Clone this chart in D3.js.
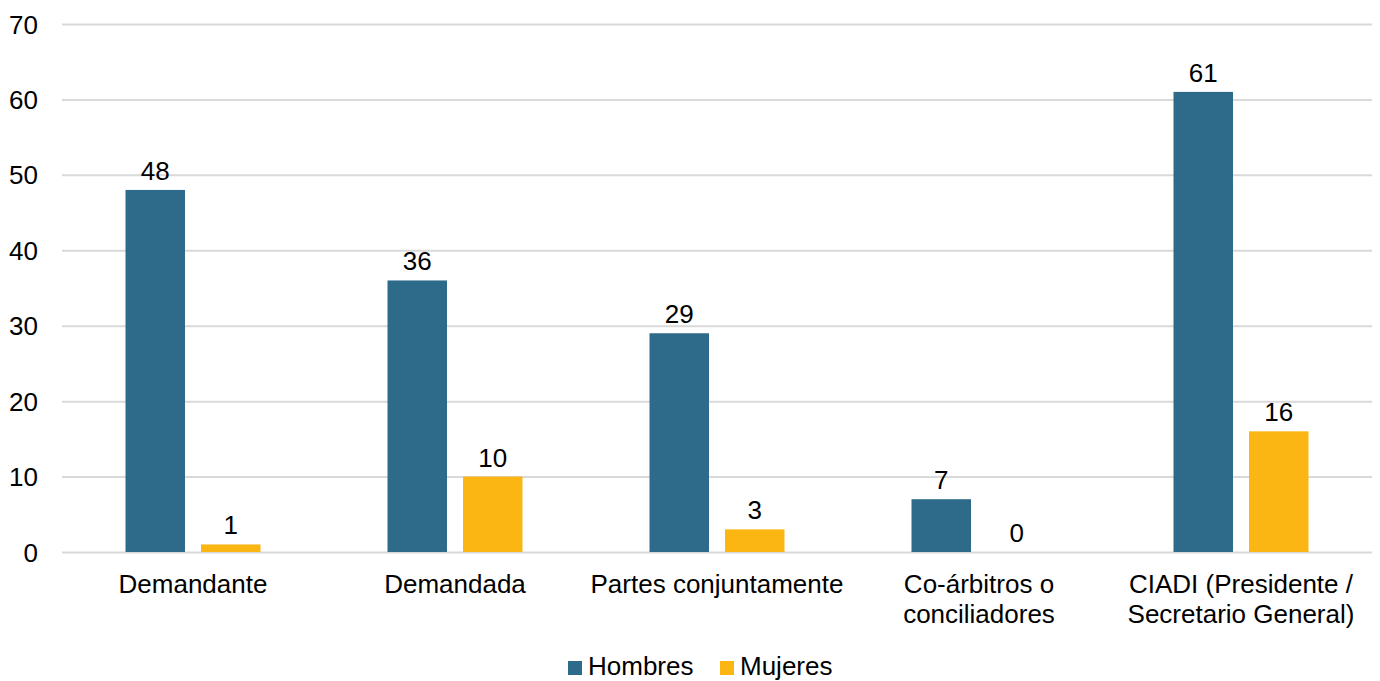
<!DOCTYPE html>
<html>
<head>
<meta charset="utf-8">
<script src="https://cdn.jsdelivr.net/npm/d3@7"></script>
<style>
  html, body { margin: 0; padding: 0; background: #fff; }
  svg { display: block; font-family: "Liberation Sans", Arial, sans-serif; }
</style>
</head>
<body>
<svg id="chart" width="1380" height="681"></svg>
<script>
// Appointments by nominating party, split by gender
const categories = [
  ["Demandante"],
  ["Demandada"],
  ["Partes conjuntamente"],
  ["Co-árbitros o", "conciliadores"],
  ["CIADI (Presidente /", "Secretario General)"]
];
const seriesNames = ["Hombres", "Mujeres"];
const hombres = [48, 36, 29, 7, 61];
const mujeres = [1, 10, 3, 0, 16];
const yTicks = [0, 10, 20, 30, 40, 50, 60, 70];

const colors = { Hombres: "#2e6b8a", Mujeres: "#fbb614" };

const svg = d3.select("#chart");
const plotLeft = 62, plotRight = 1372, plotTop = 24, plotBottom = 552;
const fontSize = 26;

const catKeys = categories.map(c => c.join(" "));
const x0 = d3.scaleBand().domain(catKeys).range([plotLeft, plotRight]).padding(0);
const x1 = d3.scaleBand().domain(seriesNames).range([0, x0.bandwidth()])
  .paddingInner(0.212).paddingOuter(0.841);
const y = d3.scaleLinear().domain([0, 70]).range([plotBottom, plotTop]);

// gridlines and value axis
const yAxis = d3.axisLeft(y).tickValues(yTicks).tickSize(-(plotRight - plotLeft)).tickPadding(24);
const gy = svg.append("g").attr("transform", `translate(${plotLeft},0)`).call(yAxis);
gy.select(".domain").remove();
gy.selectAll(".tick line").attr("stroke", "#d9d9d9").attr("stroke-width", 2);
gy.selectAll(".tick text").attr("font-size", fontSize).attr("fill", "#000")
  .attr("font-family", "Liberation Sans, Arial, sans-serif").attr("dy", "0.35em");

// bars
const rows = catKeys.map((k, i) => ({ key: k, values: [
  { s: "Hombres", v: hombres[i] },
  { s: "Mujeres", v: mujeres[i] }
]}));

const groups = svg.append("g").selectAll("g").data(rows).join("g")
  .attr("transform", d => `translate(${x0(d.key)},0)`);

groups.selectAll("rect").data(d => d.values).join("rect")
  .attr("x", d => x1(d.s))
  .attr("width", x1.bandwidth())
  .attr("y", d => y(d.v))
  .attr("height", d => y(0) - y(d.v))
  .attr("fill", d => colors[d.s]);

groups.selectAll("text").data(d => d.values).join("text")
  .attr("x", d => x1(d.s) + x1.bandwidth() / 2)
  .attr("y", d => y(d.v) - 10)
  .attr("text-anchor", "middle")
  .attr("font-size", fontSize)
  .attr("fill", "#000")
  .text(d => d.v);

// category labels
const xLabels = svg.append("g").selectAll("text").data(categories).join("text")
  .attr("x", (d, i) => x0(catKeys[i]) + x0.bandwidth() / 2)
  .attr("y", 593)
  .attr("text-anchor", "middle")
  .attr("font-size", fontSize)
  .attr("fill", "#000");
xLabels.selectAll("tspan").data(d => d).join("tspan")
  .attr("x", function () { return d3.select(this.parentNode).attr("x"); })
  .attr("dy", (d, i) => i === 0 ? 0 : 30)
  .text(d => d);

// legend
const legend = svg.append("g");
const legendItems = [
  { s: "Hombres", x: 568 },
  { s: "Mujeres", x: 720 }
];
legendItems.forEach(it => {
  legend.append("rect").attr("x", it.x).attr("y", 661).attr("width", 14).attr("height", 14)
    .attr("fill", colors[it.s]);
  legend.append("text").attr("x", it.x + 20).attr("y", 675)
    .attr("font-size", fontSize).attr("fill", "#000").text(it.s);
});
</script>
</body>
</html>
